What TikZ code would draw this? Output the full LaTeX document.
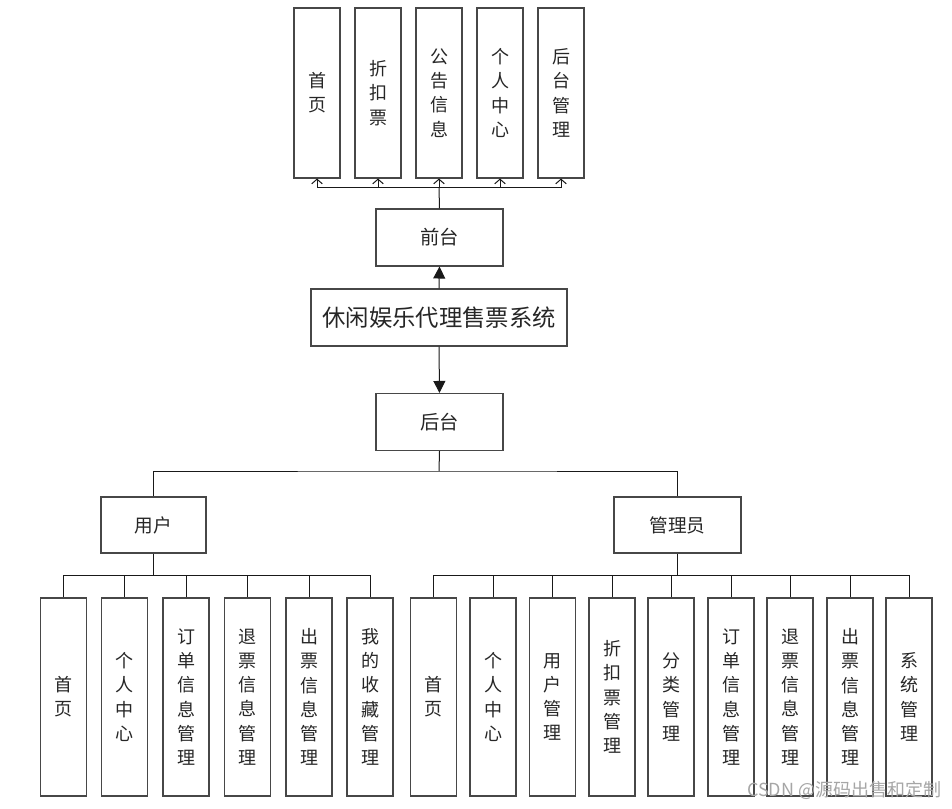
\documentclass[tikz,border=0pt]{standalone}
\usepackage{fontspec}
\newfontfamily\cjk{Noto Sans CJK SC}
\usetikzlibrary{arrows.meta}
\begin{document}
\begin{tikzpicture}[x=0.75pt,y=-0.75pt,
  box/.style={draw=black!72, line width=0.8pt, fill=white, inner sep=0pt, align=center, text=black!85},
  vtxt/.style={font=\cjk\fontsize{13.5}{18.2}\selectfont},
  topbox/.style={box, vtxt, minimum width=34.5pt, minimum height=127.5pt},
  botbox/.style={box, vtxt, minimum width=34.5pt, minimum height=148.5pt},
  midbox/.style={box, font=\cjk\fontsize{14.5}{18}\selectfont, minimum width=95.25pt, minimum height=42.75pt},
  rolebox/.style={box, font=\cjk\fontsize{14}{18}\selectfont, minimum height=42pt},
  conn/.style={draw=black!90, line width=0.75pt},
  barb/.style={conn, -{Straight Barb[length=3.5pt,width=8pt]}},
  tri/.style={conn, -{Triangle[length=9pt,width=9pt]}}]
\useasboundingbox (0,0) rectangle (952,809);

% top row
\node[topbox] (t1) at (317,93) {首\\页};
\node[topbox] (t2) at (378,93) {折\\扣\\票};
\node[topbox] (t3) at (439,93) {公\\告\\信\\息};
\node[topbox] (t4) at (500,93) {个\\人\\中\\心};
\node[topbox] (t5) at (561,93) {后\\台\\管\\理};

\node[midbox] (qt) at (439.5,237.5) {前台};
\node[box, font=\cjk\fontsize{17.5}{20}\selectfont, minimum width=192pt, minimum height=42.75pt] (sys) at (439,317.5) {休闲娱乐代理售票系统};
\node[midbox] (ht) at (439.5,422) {后台};

\node[rolebox, minimum width=78.75pt] (yh) at (153.5,525) {用户};
\node[rolebox, minimum width=95.25pt] (gl) at (677.5,525) {管理员};

% user children
\node[botbox] (u1) at (63.5,697) {首\\页};
\node[botbox] (u2) at (124.5,697) {个\\人\\中\\心};
\node[botbox] (u3) at (186,697) {订\\单\\信\\息\\管\\理};
\node[botbox] (u4) at (247.5,697) {退\\票\\信\\息\\管\\理};
\node[botbox] (u5) at (309,697) {出\\票\\信\\息\\管\\理};
\node[botbox] (u6) at (370,697) {我\\的\\收\\藏\\管\\理};

% admin children
\node[botbox] (a1) at (433.5,697) {首\\页};
\node[botbox] (a2) at (493,697) {个\\人\\中\\心};
\node[botbox] (a3) at (552.5,697) {用\\户\\管\\理};
\node[botbox] (a4) at (612,697) {折\\扣\\票\\管\\理};
\node[botbox] (a5) at (671,697) {分\\类\\管\\理};
\node[botbox] (a6) at (731,697) {订\\单\\信\\息\\管\\理};
\node[botbox] (a7) at (790,697) {退\\票\\信\\息\\管\\理};
\node[botbox] (a8) at (850,697) {出\\票\\信\\息\\管\\理};
\node[botbox] (a9) at (909,697) {系\\统\\管\\理};

% bus coordinates
\coordinate (busT) at (439,188);
\coordinate (busM) at (439,471);
\coordinate (busU) at (153.5,575);
\coordinate (busA) at (677.5,575);

% top connectors
\draw[conn] (qt.north) -- (busT);
\draw[conn] (t1.south |- busT) -- (t5.south |- busT);
\foreach \n in {t1,t2,t3,t4,t5} \draw[barb] (\n.south |- busT) -- (\n.south);

% system arrows
\draw[tri] (sys.north) -- (qt.south);
\draw[tri] (sys.south) -- (ht.north);

% backend split
\draw[conn] (ht.south) -- (busM);
\draw[conn] (yh.north) |- (busM) -| (gl.north);

% user bus
\draw[conn] (yh.south) -- (busU);
\draw[conn] (u1.north |- busU) -- (u6.north |- busU);
\foreach \n in {u1,u2,u3,u4,u5,u6} \draw[conn] (\n.north |- busU) -- (\n.north);

% admin bus
\draw[conn] (gl.south) -- (busA);
\draw[conn] (a1.north |- busA) -- (a9.north |- busA);
\foreach \n in {a1,a2,a3,a4,a5,a6,a7,a8,a9} \draw[conn] (\n.north |- busA) -- (\n.north);

% watermark
\node[font=\cjk\fontsize{13.5}{15}\selectfont, text=black!35, anchor=east] (wm) at (946,790) {CSDN @源码出售和定制};
\end{tikzpicture}
\end{document}
